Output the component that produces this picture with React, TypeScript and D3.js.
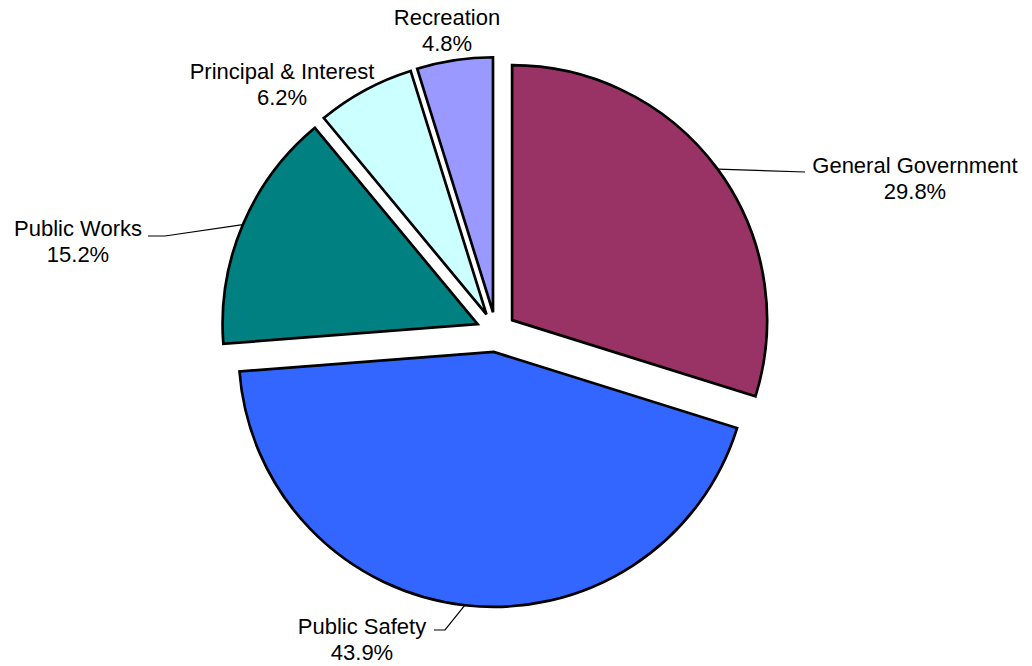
import * as d3 from 'd3'
import { useEffect, useRef } from 'react'

const categories = ['General Government', 'Public Safety', 'Public Works', 'Principal & Interest', 'Recreation']
const values = [29.8, 43.9, 15.2, 6.2, 4.8]
const colors = ['#993366', '#3366FF', '#008080', '#CCFFFF', '#9999FF']

// label layout: text centre x, first baseline y, leader line end (or null)
const labelLayout: { x: number; y: number; end: [number, number][] | null }[] = [
    { x: 915, y: 173, end: [[805, 172]] },
    { x: 362, y: 634, end: [[445, 630], [434, 630]] },
    { x: 78, y: 236, end: [[165, 236], [148, 236]] },
    { x: 282, y: 79, end: null },
    { x: 447, y: 25, end: null },
]

export default function App() {
    const svgRef = useRef<SVGSVGElement>(null)

    useEffect(() => {
        document.body.style.margin = '0'
        makeChart()
    }, [])

    function makeChart() {
        const width = 1032
        const height = 666
        const cx = 496
        const cy = 332
        const radius = 255
        const explode = 20

        const svg = d3.select(svgRef.current).attr('width', width).attr('height', height)
        svg.selectAll('*').remove()

        const data = categories.map((c, i) => ({ name: c, value: values[i], color: colors[i] }))
        const pie = d3.pie<typeof data[0]>().sort(null).value(d => d.value)
        const arcs = pie(data)
        const arc = d3.arc<d3.PieArcDatum<typeof data[0]>>().innerRadius(0).outerRadius(radius)

        const g = svg.append('g').attr('transform', `translate(${cx},${cy})`)

        arcs.forEach((a, i) => {
            const mid = (a.startAngle + a.endAngle) / 2
            const ox = Math.sin(mid) * explode
            const oy = -Math.cos(mid) * explode
            g.append('path')
                .attr('d', arc(a)!)
                .attr('transform', `translate(${ox},${oy})`)
                .attr('fill', a.data.color)
                .attr('stroke', '#000')
                .attr('stroke-width', 2.7)
                .attr('stroke-linejoin', 'miter')

            const lay = labelLayout[i]
            if (lay.end) {
                const sx = cx + ox + Math.sin(mid) * radius
                const sy = cy + oy - Math.cos(mid) * radius
                const pts: [number, number][] = [[sx, sy], ...lay.end]
                svg.append('path')
                    .attr('d', d3.line()(pts)!)
                    .attr('fill', 'none')
                    .attr('stroke', '#000')
                    .attr('stroke-width', 1.2)
            }

            const text = svg.append('text')
                .attr('text-anchor', 'middle')
                .attr('font-family', 'Liberation Sans, Arial, sans-serif')
                .attr('font-size', 22)
                .attr('fill', '#000')
            text.append('tspan').attr('x', lay.x).attr('y', lay.y).text(a.data.name)
            text.append('tspan').attr('x', lay.x).attr('y', lay.y + 26).text(`${a.data.value.toFixed(1)}%`)
        })
    }

    return <svg ref={svgRef} style={{ display: 'block' }}></svg>
}
